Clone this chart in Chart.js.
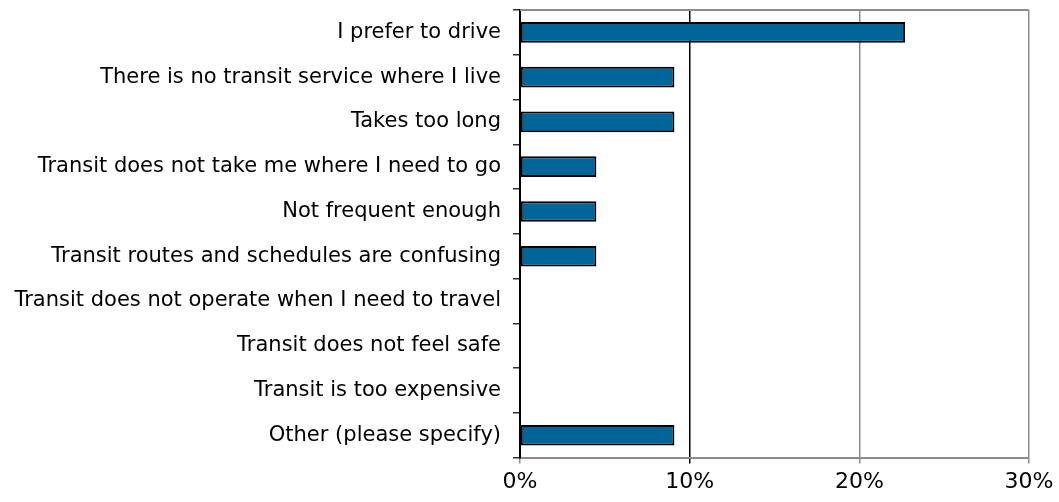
<!DOCTYPE html>
<html>
<head>
<meta charset="utf-8">
<script src="https://cdn.jsdelivr.net/npm/chart.js@4"></script>
<style>
  html, body { margin: 0; padding: 0; background: #fff; }
  #wrap { width: 1059px; height: 502px; }
</style>
</head>
<body>
<div id="wrap"><canvas id="barChart" width="1059" height="502"></canvas></div>
<script>
const categories = [
  'I prefer to drive',
  'There is no transit service where I live',
  'Takes too long',
  'Transit does not take me where I need to go',
  'Not frequent enough',
  'Transit routes and schedules are confusing',
  'Transit does not operate when I need to travel',
  'Transit does not feel safe',
  'Transit is too expensive',
  'Other (please specify)'
];
const shares = [22.7, 9.1, 9.1, 4.5, 4.5, 4.5, 0, 0, 0, 9.1];
const xTicks = [0, 10, 20, 30];

const FONT = "'DejaVu Sans', sans-serif";

// grey frame line along the top of the plot
const topFrame = {
  id: 'topFrame',
  afterDraw(chart) {
    const { ctx, chartArea: a } = chart;
    ctx.save();
    ctx.strokeStyle = '#8c8c8c';
    ctx.lineWidth = 2;
    ctx.beginPath();
    ctx.moveTo(a.left, a.top);
    ctx.lineTo(a.right, a.top);
    ctx.stroke();
    ctx.restore();
  }
};

new Chart(document.getElementById('barChart').getContext('2d'), {
  type: 'bar',
  data: {
    labels: categories,
    datasets: [{
      data: shares,
      backgroundColor: '#006699',
      borderColor: '#000000',
      borderWidth: 2,
      borderSkipped: false,
      categoryPercentage: 1,
      barPercentage: 0.46
    }]
  },
  options: {
    indexAxis: 'y',
    responsive: false,
    animation: false,
    layout: { padding: { top: 10, right: 30, bottom: 2, left: 0 } },
    plugins: { legend: { display: false }, tooltip: { enabled: false } },
    scales: {
      x: {
        min: 0, max: 30,
        afterBuildTicks(axis) { axis.ticks = xTicks.map(v => ({ value: v })); },
        ticks: {
          callback: v => v + '%',
          color: '#000',
          font: { family: FONT, size: 22 },
          padding: 5
        },
        grid: {
          color: c => (c.tick && c.tick.value === 10) ? '#000000' : '#8c8c8c',
          lineWidth: 1.5,
          tickLength: 6
        },
        border: { color: '#8c8c8c', width: 2 }
      },
      y: {
        afterFit(axis) { axis.width = 520; axis.paddingTop = 0; axis.paddingBottom = 0; },
        ticks: {
          color: '#000',
          font: { family: FONT, size: 21 },
          padding: 12
        },
        grid: {
          offset: true,
          drawOnChartArea: false,
          color: '#333',
          lineWidth: 1.5,
          tickLength: 7
        },
        border: { color: '#000000', width: 2 }
      }
    }
  },
  plugins: [topFrame]
});
</script>
</body>
</html>
